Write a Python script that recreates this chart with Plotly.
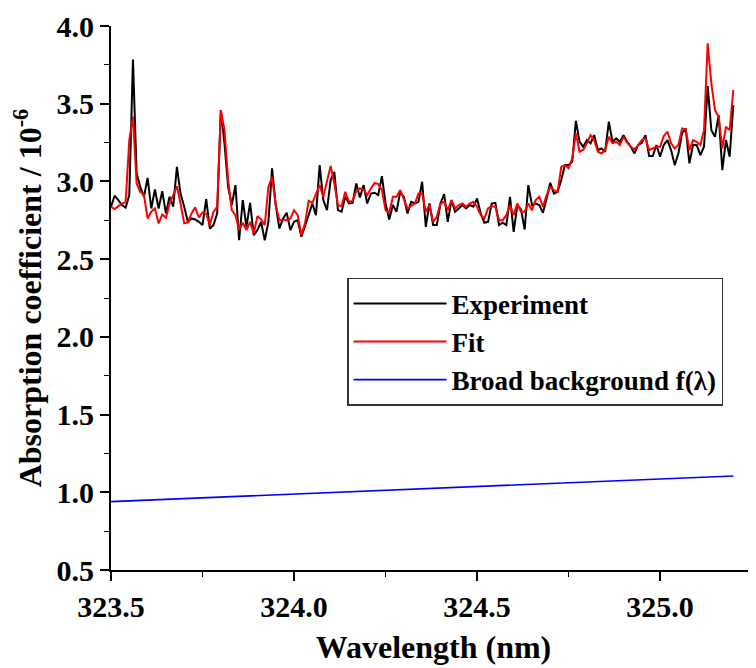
import plotly.graph_objects as go

# ---------------- data ----------------
wl_start = 323.50
wl_step = 0.01

experiment = [
    2.837, 2.908, 2.880, 2.848, 2.831, 2.912, 3.785, 3.051, 2.965, 2.901,
    3.023, 2.826, 2.948, 2.826, 2.937, 2.794, 2.901, 2.837, 3.094, 2.922,
    2.837, 2.740, 2.762, 2.755, 2.740, 2.719, 2.886, 2.697, 2.719, 2.794,
    3.459, 3.245, 2.965, 2.848, 2.976, 2.622, 2.880, 2.708, 2.862, 2.654,
    2.687, 2.740, 2.622, 2.740, 3.084, 2.848, 2.697, 2.762, 2.798, 2.687,
    2.740, 2.751, 2.644, 2.708, 2.783, 2.858, 2.783, 3.105, 2.880, 2.815,
    3.009, 3.062, 2.815, 2.805, 2.901, 2.858, 2.862, 2.987, 2.897, 2.976,
    2.858, 2.922, 2.927, 2.912, 3.034, 2.858, 2.755, 2.848, 2.805, 2.933,
    2.901, 2.794, 2.869, 2.858, 2.869, 2.998, 2.708, 2.858, 2.719, 2.719,
    2.858, 2.918, 2.740, 2.880, 2.805, 2.826, 2.848, 2.826, 2.848, 2.837,
    2.890, 2.794, 2.734, 2.740, 2.858, 2.862, 2.719, 2.734, 2.719, 2.901,
    2.676, 2.848, 2.820, 2.691, 2.976, 2.848, 2.858, 2.848, 2.798, 2.890,
    2.991, 2.922, 2.933, 3.009, 3.105, 3.105, 3.127, 3.390, 3.255, 3.223,
    3.266, 3.245, 3.298, 3.202, 3.212, 3.191, 3.384, 3.255, 3.277, 3.255,
    3.298, 3.255, 3.223, 3.180, 3.234, 3.249, 3.298, 3.163, 3.163, 3.234,
    3.159, 3.234, 3.266, 3.202, 3.105, 3.180, 3.309, 3.341, 3.116, 3.234,
    3.234, 3.169, 3.223, 3.614, 3.330, 3.287, 3.427, 3.073, 3.266, 3.159,
    3.491,
]

fit = [
    2.837, 2.822, 2.841, 2.854, 2.869, 3.266, 3.416, 2.987, 2.933, 2.912,
    2.762, 2.805, 2.826, 2.730, 2.788, 2.766, 2.858, 2.912, 2.970, 2.858,
    2.730, 2.736, 2.794, 2.833, 2.768, 2.801, 2.794, 2.719, 2.805, 2.837,
    3.459, 3.331, 3.009, 2.815, 2.783, 2.687, 2.734, 2.687, 2.740, 2.665,
    2.777, 2.755, 2.719, 2.965, 3.030, 2.848, 2.751, 2.755, 2.751, 2.762,
    2.815, 2.783, 2.655, 2.730, 2.875, 2.862, 2.922, 2.976, 2.901, 3.009,
    3.099, 2.987, 2.848, 2.841, 2.933, 2.869, 2.875, 2.937, 2.955, 2.948,
    2.912, 2.955, 2.991, 2.983, 2.944, 2.815, 2.798, 2.901, 2.901, 2.944,
    2.890, 2.826, 2.843, 2.858, 2.922, 2.922, 2.805, 2.848, 2.740, 2.773,
    2.858, 2.869, 2.815, 2.880, 2.826, 2.848, 2.858, 2.837, 2.858, 2.869,
    2.837, 2.783, 2.762, 2.826, 2.841, 2.837, 2.751, 2.751, 2.783, 2.848,
    2.783, 2.858, 2.805, 2.805, 2.858, 2.815, 2.880, 2.901, 2.837, 2.912,
    2.966, 2.944, 2.933, 3.094, 3.105, 3.084, 3.148, 3.309, 3.191, 3.202,
    3.245, 3.298, 3.266, 3.191, 3.180, 3.202, 3.287, 3.245, 3.255, 3.234,
    3.287, 3.249, 3.223, 3.206, 3.234, 3.266, 3.277, 3.202, 3.212, 3.223,
    3.223, 3.292, 3.320, 3.245, 3.212, 3.234, 3.341, 3.335, 3.202, 3.266,
    3.255, 3.234, 3.330, 3.888, 3.631, 3.459, 3.416, 3.212, 3.352, 3.330,
    3.588,
]

wavelength = [round(wl_start + wl_step * i, 2) for i in range(len(experiment))]

bg_wavelength = [323.5, 323.6, 323.7, 323.8, 323.9, 324.0, 324.1, 324.2, 324.3,
                 324.4, 324.5, 324.6, 324.7, 324.8, 324.9, 325.0, 325.1, 325.2]
background = [0.940, 0.950, 0.959, 0.969, 0.979, 0.989, 0.998, 1.008, 1.018,
              1.027, 1.037, 1.047, 1.056, 1.066, 1.076, 1.086, 1.095, 1.105]

x_ticks = [323.5, 324.0, 324.5, 325.0]
y_ticks = [0.5, 1.0, 1.5, 2.0, 2.5, 3.0, 3.5, 4.0]

# ---------------- figure ----------------
FONT = "Liberation Serif"

fig = go.Figure()
fig.add_trace(go.Scatter(x=wavelength, y=experiment, mode="lines",
                         name="Experiment", line=dict(color="black", width=2)))
fig.add_trace(go.Scatter(x=wavelength, y=fit, mode="lines",
                         name="Fit", line=dict(color="#ff0000", width=2)))
fig.add_trace(go.Scatter(x=bg_wavelength, y=background, mode="lines",
                         name="Broad background f(\u03bb)",
                         line=dict(color="#0000ff", width=1.6)))

tickfont = dict(family=FONT, size=30, color="black", weight="bold")
titlefont = dict(family=FONT, size=32, color="black", weight="bold")

common = dict(showline=True, linecolor="black", linewidth=2, showgrid=False,
              zeroline=False, ticks="outside", ticklen=9, tickwidth=1.6,
              tickcolor="black", tickfont=tickfont, tickformat=".1f",
              automargin=False,
              minor=dict(ticks="outside", ticklen=5, tickwidth=1.4,
                         tickcolor="black", showgrid=False))

fig.update_xaxes(range=[323.5, 325.262], tickvals=x_ticks,
                 minor_dtick=0.25, minor_tick0=323.5,
                 title=dict(text="Wavelength (nm)", font=titlefont, standoff=14),
                 **common)
fig.update_yaxes(range=[0.5, 4.0], tickvals=y_ticks,
                 minor_dtick=0.25, minor_tick0=0.5,
                 title=dict(text="Absorption coefficient / 10<sup>-6</sup>",
                            font=titlefont, standoff=10),
                 **common)

# the page adds an 8px body margin, so the figure is sized/offset to compensate
fig.update_layout(
    width=748, height=660,
    margin=dict(l=103, r=0, t=18, b=98),
    paper_bgcolor="white", plot_bgcolor="white",
    font=dict(family=FONT, color="black"),
    showlegend=True,
    legend=dict(x=0.366, y=0.537, xanchor="left", yanchor="top",
                bgcolor="white", bordercolor="#333333", borderwidth=1.5,
                font=dict(family=FONT, size=27, color="black", weight="bold"),
                itemwidth=93, tracegroupgap=0),
)

fig.write_html("out.html")
